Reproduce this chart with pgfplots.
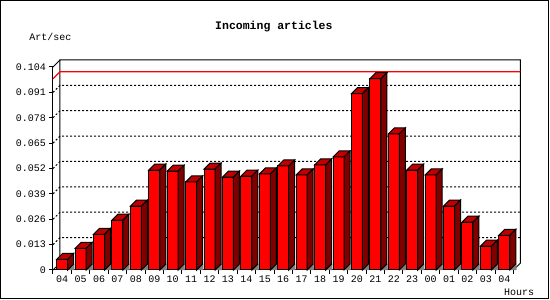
\documentclass[border=0pt]{standalone}
\usepackage{pgfplots}
\pgfplotsset{compat=1.18}
\usepackage{pgfplotstable}
\usepackage{fontspec}
\setmainfont{Liberation Mono}
\setmonofont{Liberation Mono}
\definecolor{barfront}{HTML}{FF0000}
\definecolor{bartop}{HTML}{C00000}
\definecolor{barside}{HTML}{800000}
\definecolor{floorgray}{HTML}{808080}
\pgfdeclareplotmark{emptymark}{}
\pgfplotstableread{
x v
0 0.0055
1 0.0111
2 0.0183
3 0.0255
4 0.0327
5 0.0512
6 0.0507
7 0.0451
8 0.0517
9 0.0476
10 0.0481
11 0.0492
12 0.0533
13 0.0487
14 0.0538
15 0.0579
16 0.0903
17 0.0980
18 0.0697
19 0.0512
20 0.0487
21 0.0327
22 0.0245
23 0.0122
24 0.0178
}\datatable
\begin{document}
\begin{tikzpicture}
\begin{axis}[name=ax, scale only axis, width=460.5pt, height=203pt,
  xmin=-0.5, xmax=24.5, ymin=0, ymax=0.104, clip=false,
  axis x line*=bottom, axis y line*=left,
  axis line style={line width=1pt, black},
  tick align=outside, major tick length=4pt,
  tick style={line width=1pt, black},
  xtick={-0.5,0.5,...,24.5},
  xticklabels={04,05,06,07,08,09,10,11,12,13,14,15,16,17,18,19,20,21,22,23,00,01,02,03,04,{}},
  xticklabel style={xshift=9.21pt, yshift=-0.5pt, font=\fontsize{10}{12}\selectfont, inner sep=1pt},
  ytick={0,0.013,0.026,0.039,0.052,0.065,0.078,0.091,0.104},
  yticklabels={0,0.013,0.026,0.039,0.052,0.065,0.078,0.091,0.104},
  yticklabel style={xshift=-2pt, font=\fontsize{10}{12}\selectfont, inner sep=1pt},
]
% back wall grid
\pgfplotsinvokeforeach{0.013,0.026,0.039,0.052,0.065,0.078,0.091}{
  \draw[line width=1pt, dash pattern=on 2pt off 2pt] (axis cs:-0.5,#1) -- ++(7pt,7pt) -- ([shift={(7pt,7pt)}]axis cs:24.5,#1);
}
% back wall frame
\draw[line width=1pt] ([shift={(7pt,7pt)}]axis cs:-0.5,0) -- ([shift={(7pt,7pt)}]axis cs:-0.5,0.104) -- ([shift={(7pt,7pt)}]axis cs:24.5,0.104) -- ([shift={(7pt,7pt)}]axis cs:24.5,0) -- (axis cs:24.5,0);
\draw[line width=1pt] (axis cs:-0.5,0.104) -- ++(7pt,7pt);
\draw[line width=1pt] (axis cs:-0.5,0) -- ++(7pt,7pt);
% max line
\draw[line width=1.2pt, barfront] (axis cs:-0.5,0.098) -- ++(7pt,7pt) -- ([shift={(7pt,7pt)}]axis cs:24.5,0.098);
% bars front
\addplot[ybar, bar width=11pt, fill=barfront, draw=black, line width=1pt] table[x=x,y=v] {\datatable};
% bars top and side
\addplot[scatter, only marks, mark=emptymark,
  visualization depends on={\thisrow{v}*1951.923 \as \hh},
  scatter/@pre marker code/.code={%
    \pgfmathsetmacro\hb{-\hh}%
    \pgfmathsetmacro\hc{6-\hh}%
    \fill[floorgray] (5.5pt,\hb pt) -- (12pt,\hc pt) -- (12pt,\hb pt) -- cycle;
    \filldraw[fill=bartop, draw=black, line width=1pt] (-5.5pt,0pt) -- (0.5pt,6pt) -- (11.5pt,6pt) -- (5.5pt,0pt) -- cycle;
    \filldraw[fill=barside, draw=black, line width=1pt] (5.5pt,0pt) -- (11.5pt,6pt) -- (11.5pt,\hc pt) -- (5.5pt,\hb pt) -- cycle;
  },
  scatter/@post marker code/.code={},
] table[x=x,y=v] {\datatable};
\end{axis}
\node[font=\bfseries\fontsize{11.5}{14}\selectfont] at ([shift={(220.9pt,243.3pt)}]ax.south west) {Incoming articles};
\node[font=\fontsize{10}{12}\selectfont] at ([shift={(-2.5pt,233.3pt)}]ax.south west) {Art/sec};
\node[font=\fontsize{10}{12}\selectfont] at ([shift={(466.2pt,-22.3pt)}]ax.south west) {Hours};
\draw[line width=1.5pt] ([shift={(-52.25pt,-28.5pt)}]ax.south west) rectangle ([shift={(495.5pt,269.25pt)}]ax.south west);
\path ([shift={(-53pt,-30pt)}]ax.south west) rectangle ([shift={(497pt,270pt)}]ax.south west);
\end{tikzpicture}
\end{document}
